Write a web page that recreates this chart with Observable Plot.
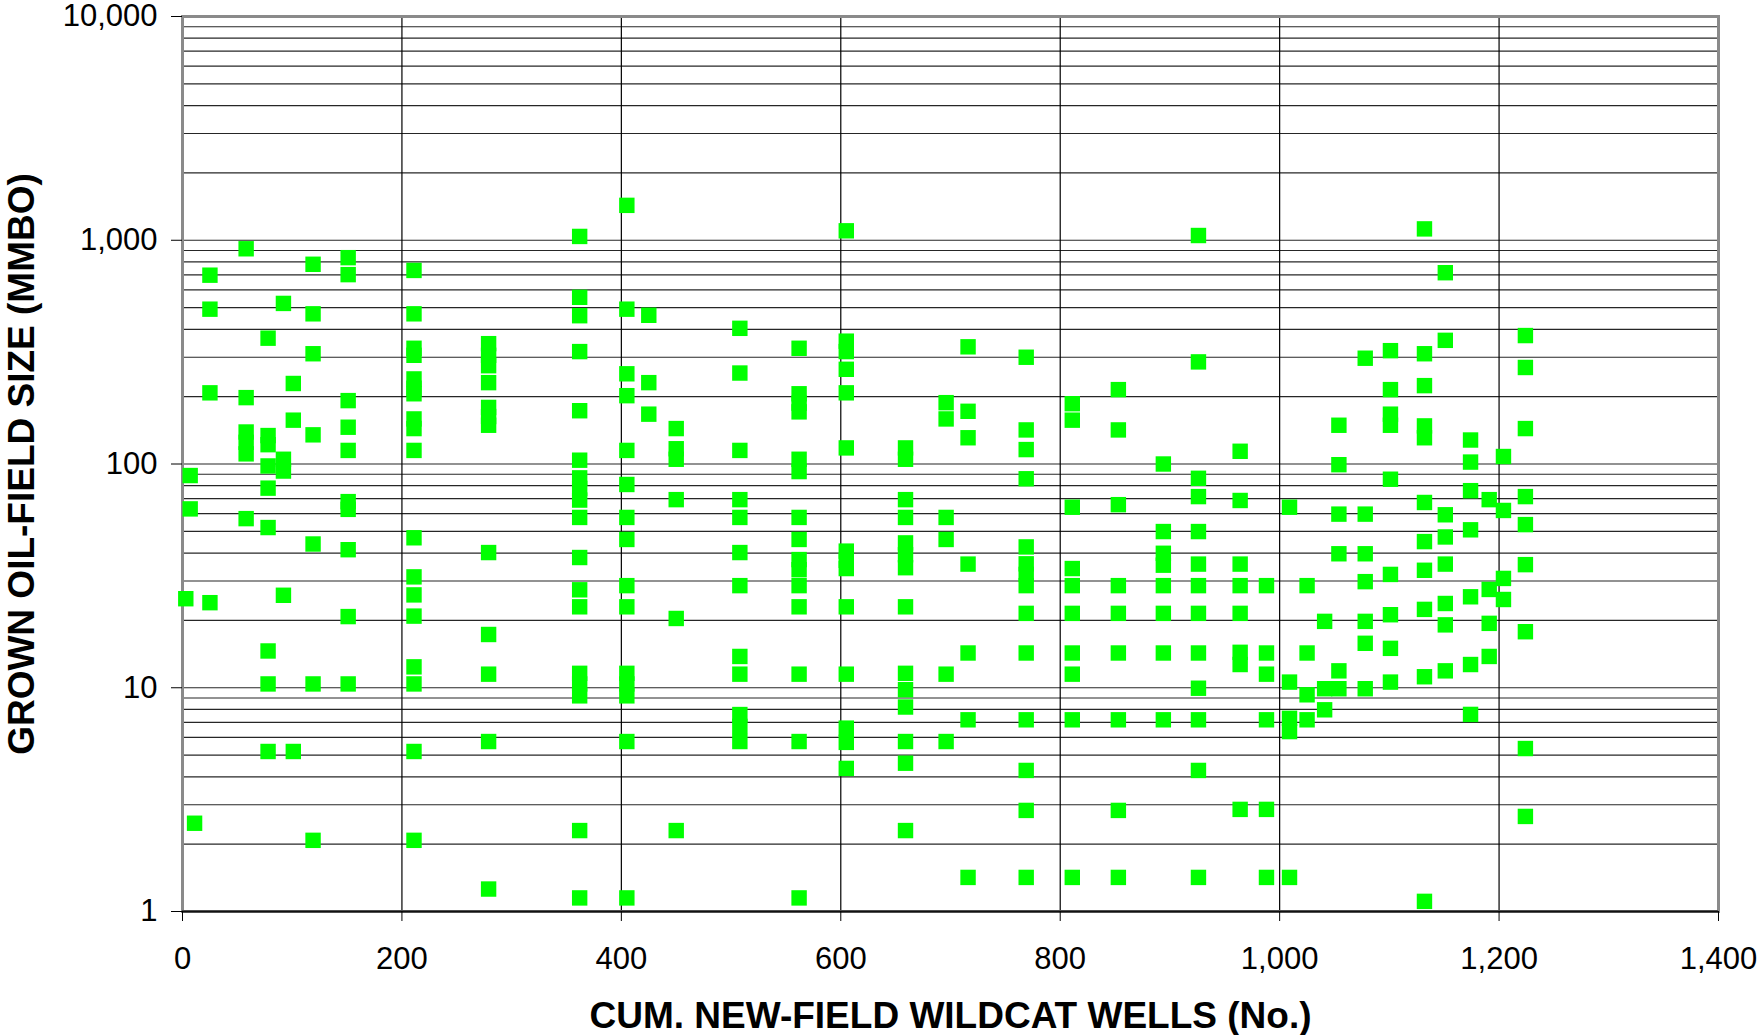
<!DOCTYPE html>
<html>
<head>
<meta charset="utf-8">
<script src="https://cdn.jsdelivr.net/npm/d3@7"></script>
<script src="https://cdn.jsdelivr.net/npm/@observablehq/plot@0.6"></script>
<style>
  html, body { margin: 0; padding: 0; background: #fff; }
  #chart { width: 1760px; height: 1035px; }
</style>
</head>
<body>
<div id="chart"></div>
<script>
// Cumulative new-field wildcat wells at which discoveries were made (columns)
const wellColumns = [3, 7, 11, 25, 58, 78, 92, 101, 119, 151, 211, 279, 362, 405, 425, 450, 508, 562, 605, 659, 696, 716, 769, 811, 853, 894, 926, 964, 988, 1009, 1025, 1041, 1054, 1078, 1101, 1132, 1151, 1174, 1191, 1204, 1224];
// Grown oil-field sizes (MMBO) for each column above
const sizesByColumn = [
  [25],
  [88.8, 63],
  [2.48],
  [698, 492, 208, 24],
  [916, 198, 139, 125, 111, 57],
  [365, 134, 122, 98, 78, 52, 14.6, 10.4, 5.19],
  [522, 105, 93, 25.9],
  [229, 157, 5.19],
  [781, 469, 311, 135, 43.9, 10.4, 2.08],
  [836, 702, 192, 146, 115, 67.9, 62.7, 41.4, 20.8, 10.4],
  [733, 469, 329, 306, 240, 218, 206, 159, 144, 115, 46.8, 31.3, 26, 20.9, 12.4, 10.4, 5.19, 2.08],
  [345, 306, 275, 231, 179, 163, 149, 40.2, 17.3, 11.5, 5.75, 1.26],
  [1040, 556, 460, 318, 173, 104, 86.7, 77.8, 69, 57.7, 38.2, 27.4, 23, 11.6, 10.4, 9.2, 2.3, 1.15],
  [1432, 492, 253, 202, 115, 81, 57.7, 46, 28.6, 23, 11.6, 10.4, 9.2, 5.75, 1.15],
  [462, 231, 167],
  [144, 117, 105, 69.3, 20.4, 2.3],
  [404, 255, 115, 69.3, 57.7, 40.2, 28.6, 13.8, 11.5, 7.59, 6.72, 5.75],
  [329, 206, 187, 171, 105, 92.5, 57.7, 46, 37.4, 33.7, 28.6, 23, 11.5, 5.75, 1.15],
  [1102, 354, 318, 265, 208, 118, 40.8, 37.1, 34.1, 23, 11.5, 6.6, 5.7, 4.36],
  [118, 105, 69.3, 57.7, 44.4, 39.3, 34.4, 23, 11.6, 9.8, 8.2, 5.75, 4.6, 2.3],
  [188, 159, 57.7, 46, 11.5, 5.75],
  [334, 172, 131, 35.7, 14.3, 7.19, 1.42],
  [300, 142, 116, 85.9, 42.6, 35.8, 32.1, 28.6, 21.5, 14.3, 7.19, 4.27, 2.83, 1.42],
  [186, 157, 64.1, 34.1, 28.6, 21.5, 14.3, 11.5, 7.19, 1.42],
  [215, 142, 65.8, 28.6, 21.5, 14.3, 7.19, 2.83, 1.42],
  [100, 49.9, 39.9, 35.3, 28.6, 21.5, 14.3, 7.19],
  [1050, 286, 86.3, 71.5, 49.9, 35.7, 28.6, 21.5, 14.3, 9.95, 7.19, 4.27, 1.42],
  [114, 68.7, 35.7, 28.6, 21.5, 14.4, 12.7, 2.86],
  [28.6, 14.3, 11.5, 7.19, 2.86, 1.42],
  [64.1, 10.6, 7.3, 6.37, 1.42],
  [28.6, 14.3, 9.3, 7.19],
  [19.8, 9.9, 7.97],
  [149, 99.3, 59.7, 39.7, 11.9, 9.9],
  [297, 59.7, 39.7, 29.8, 19.8, 15.8, 9.9],
  [321, 215, 167, 149, 85.5, 32.1, 21.2, 15, 10.6],
  [1124, 311, 224, 148, 131, 67.3, 45, 33.5, 22.4, 11.2, 1.11],
  [716, 357, 59.3, 47.2, 35.7, 23.8, 19.1, 11.9],
  [128, 102, 76, 50.8, 25.5, 12.7, 7.6],
  [69.3, 27.5, 19.4, 13.8],
  [108, 62, 30.8, 24.8],
  [375, 270, 144, 71.5, 53.6, 35.5, 17.8, 5.35, 2.66]
];
const xTicks = [0, 200, 400, 600, 800, 1000, 1200, 1400];
const yTicks = [1, 10, 100, 1000, 10000];
const xTitle = "CUM. NEW-FIELD WILDCAT WELLS (No.)";
const yTitle = "GROWN OIL-FIELD SIZE (MMBO)";

const points = wellColumns.flatMap((w, i) => sizesByColumn[i].map(s => ({wells: w, size: s})));
const yGrid = [1, 10, 100, 1000].flatMap(d => d3.range(1, 10).map(k => k * d)).concat([10000]);
const xGrid = xTicks.slice(1, -1);
const fmt = d3.format(",");

const chart = Plot.plot({
  width: 1760,
  height: 1035,
  marginLeft: 182,
  marginRight: 42,
  marginTop: 16,
  marginBottom: 124,
  style: {fontFamily: "'Liberation Sans', Arial, sans-serif", background: "#fff", color: "#000", overflow: "visible"},
  x: {domain: [0, 1400], ticks: xTicks, tickFormat: fmt},
  y: {type: "log", domain: [1, 10000], ticks: yTicks, tickFormat: fmt},
  marks: [
    Plot.ruleY(yGrid, {stroke: "#000", strokeWidth: 1.2, strokeOpacity: 0.85}),
    Plot.ruleX(xGrid, {stroke: "#000", strokeWidth: 1.2}),
    Plot.frame({stroke: "#8a8a8a", strokeWidth: 3}),
    Plot.ruleY([1], {stroke: "#111", strokeWidth: 2}),
    Plot.axisX({ticks: xTicks, tickFormat: fmt, tickSize: 10, tickPadding: 25, fontSize: 31, label: null, stroke: "#000"}),
    Plot.axisY({ticks: yTicks, tickFormat: fmt, tickSize: 11, tickPadding: 14, fontSize: 31, label: null, stroke: "#000"}),
    Plot.text([xTitle], {frameAnchor: "bottom", dy: 105, fontSize: 37, fontWeight: "bold", lineAnchor: "middle", textAnchor: "middle"}),
    Plot.text([yTitle], {frameAnchor: "left", dx: -160, rotate: -90, fontSize: 37, fontWeight: "bold", lineAnchor: "middle", textAnchor: "middle"}),
    Plot.dot(points, {x: "wells", y: "size", symbol: "square", r: 8.7, fill: "#00ff00", stroke: "none"})
  ]
});
document.getElementById("chart").appendChild(chart);
</script>
</body>
</html>
